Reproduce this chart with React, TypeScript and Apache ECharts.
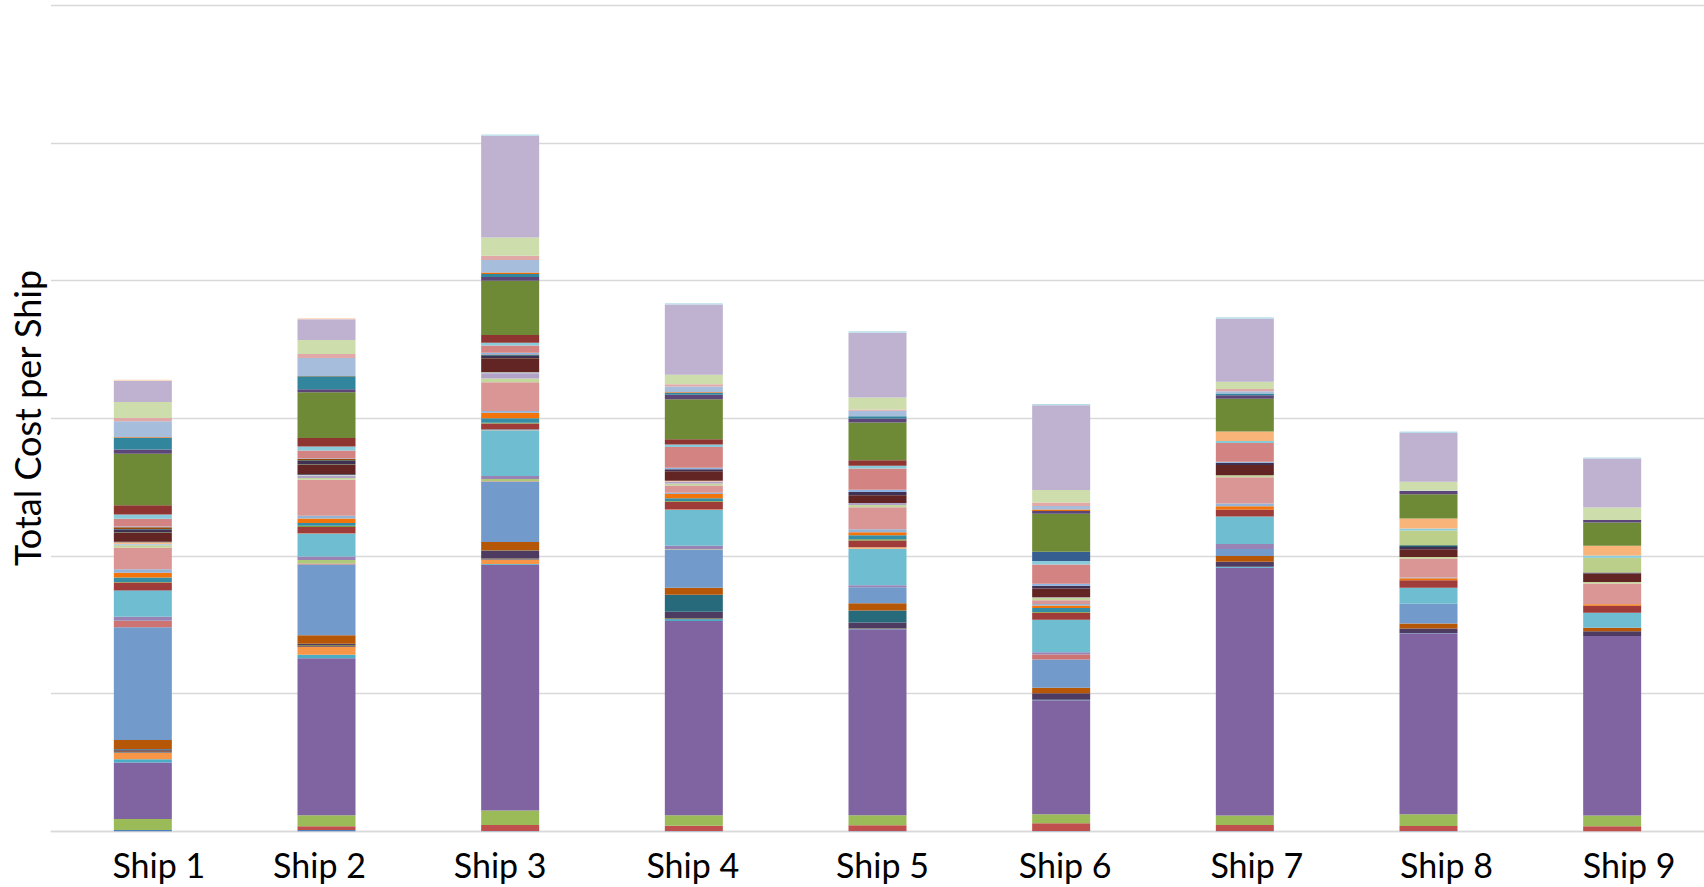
import React, { useEffect, useRef } from "react";
import * as echarts from "echarts";

const ships = ["Ship 1", "Ship 2", "Ship 3", "Ship 4", "Ship 5", "Ship 6", "Ship 7", "Ship 8", "Ship 9"];
// horizontal nudge of each category label, as in the reference rendering
const labelNudge = [16, -7, -10, -1, 5, 4, 12, 18, 17];

// Cost component colours, bottom of the stack to the top
const componentColors = [
  "#4F81BD", "#C0504D", "#9BBB59", "#8064A2", "#4BACC6", "#F79646",
  "#2C4D75", "#772C2A", "#5F7530", "#4D3B62", "#276A7C", "#B65708",
  "#729ACA", "#CD7371", "#AFC97A", "#9983B5", "#6FBDD1", "#F9AB6B",
  "#3A679C", "#9F3B38", "#7E9C40", "#664F83", "#358EA6", "#F3740B",
  "#95B3D7", "#D99694", "#C3D69B", "#B3A2C7", "#93CDDD", "#FAC090",
  "#254061", "#632523", "#4F6228", "#403152", "#215968", "#984807",
  "#8EB4E3", "#D38482", "#BBCE8A", "#A99BBD", "#8ACBDB", "#F9B47A",
  "#375E90", "#8E3532", "#6F8A37", "#5B4677", "#31859C", "#E36C09",
  "#A6BDDB", "#E0A9A8", "#CDDDAC", "#BFB1D0", "#B7DEE8", "#FCD5B4",
];

// Cost of each component per ship (same order as componentColors)
const ship1 = [
  1, 0, 8, 41, 2.4, 4.8,
  0.5, 0.5, 0.3, 1, 0.3, 6.5,
  82, 4.4, 0.3, 2.9, 18.6, 0.3,
  0.3, 5.6, 0.5, 0, 3.1, 3.6,
  2.4, 15.7, 1.9, 0.5, 0.3, 1.2,
  0.5, 6.5, 0.3, 2, 0.5, 1.2,
  0.5, 5.6, 0, 0, 3.1, 0,
  0, 6.8, 37.3, 3.1, 8.5, 0.5,
  11.6, 2.4, 11.6, 15.5, 0, 0.7,
];
const ship2 = [
  1, 2.7, 8, 114, 2.5, 5.6,
  0.5, 0.5, 0.6, 0.6, 0.3, 6.1,
  51.5, 0.7, 2.5, 2.5, 16.4, 0.3,
  0.3, 4.4, 1, 0, 2, 3.2,
  2, 26.2, 1.2, 1.7, 0.3, 0.3,
  0.5, 6.9, 0.3, 2.5, 0.5, 1,
  0.5, 5.6, 0, 0, 2.9, 0,
  0, 6.1, 33.3, 2.2, 9.3, 0.3,
  13, 2.9, 10.3, 15, 0, 0.7,
];
const ship3 = [
  0.3, 4.3, 10.5, 178.6, 0.5, 3.3,
  0.3, 0.3, 0.3, 5.3, 0.3, 6.2,
  43.8, 0.3, 1.6, 2.3, 33.2, 0.3,
  0.3, 4.3, 0.5, 0, 3.3, 3.9,
  1.3, 21, 2.6, 3.9, 0.3, 0.3,
  0.3, 9.9, 0.3, 1.6, 0.5, 0.3,
  1.3, 5.3, 0, 0, 2, 0,
  0, 5.6, 39.5, 2.6, 2.3, 1,
  9.2, 3, 13.2, 74, 1, 0,
];
const ship4 = [
  0.3, 3.8, 7.6, 141, 1.3, 0,
  0.3, 0.3, 0.4, 4.5, 12.4, 5,
  27.7, 0, 0.3, 2.5, 26, 0.3,
  0, 5.8, 0.5, 0, 2, 3,
  1, 5.3, 1.3, 1.5, 0, 0.5,
  0, 7, 0, 1.5, 0, 0,
  1, 15.1, 0, 0, 1.8, 0,
  0, 3.8, 29, 3.3, 1.3, 0.5,
  4.3, 1.5, 7, 51, 1, 0,
];
const ship5 = [
  0.3, 4.1, 7.3, 135, 0.3, 0,
  0.2, 0.2, 0.2, 4.1, 8.7, 5.3,
  11.6, 0, 0, 1.5, 26.4, 1.2,
  0, 4.8, 1, 0, 2.9, 2.2,
  2.2, 16, 1.5, 1.5, 0, 0,
  0, 5.6, 0, 2.4, 0, 0,
  1.7, 15.3, 0, 0, 2, 0,
  0, 4.1, 27.4, 2.9, 1.7, 0,
  3.9, 1, 8.7, 47, 1, 0,
];
const ship6 = [
  0.3, 5.6, 6.5, 82.8, 0.3, 0,
  0, 0, 0, 4.8, 0, 3.9,
  20.6, 3.6, 0, 1.7, 23.5, 0,
  0, 5.1, 0.7, 0, 2.9, 1.7,
  1.2, 2.7, 1.7, 0.5, 0, 0,
  0, 6.3, 0, 2, 0, 0,
  1.5, 14, 0, 0, 2.4, 0,
  6.8, 0, 27.6, 2, 0, 1,
  2.7, 2.4, 9.2, 61.5, 1, 0,
];
const ship7 = [
  0.3, 4.2, 6.9, 180, 0.7, 0,
  0, 0, 0, 3.7, 0, 4.2,
  5, 0, 0, 3.7, 20, 0,
  0, 5, 0, 0, 0, 2.5,
  2, 19, 1.5, 0, 0, 0,
  0, 7.4, 0, 1.7, 0, 0,
  0.7, 13.6, 0, 0, 1.5, 6.9,
  0, 0, 23.8, 2.5, 1.2, 0,
  1.7, 1.7, 5.2, 45.8, 1, 0,
];
const ship8 = [
  0.3, 3.6, 8.5, 131.4, 0.3, 0,
  0, 0, 0, 3.2, 0, 3.6,
  14.5, 0, 0, 0, 11.6, 0,
  0, 5.3, 0, 0, 0, 1.5,
  0.5, 13.8, 1.2, 0, 0, 0,
  0, 5.6, 0, 1.7, 1.2, 0,
  0, 0, 10.7, 0, 1.5, 7.3,
  0, 0, 17.5, 2.4, 0, 0,
  0.3, 0, 6.5, 35.4, 1, 0,
];
const ship9 = [
  0, 3.6, 7.8, 130.4, 0, 0,
  0, 0, 0, 3.6, 0, 2.4,
  0, 0, 0, 0, 10.9, 0,
  0, 5.1, 0, 0, 0, 1.2,
  0, 15, 1.2, 0, 0, 0,
  0, 6.1, 0, 0.7, 0, 0,
  0, 0, 10.7, 0, 1.7, 7,
  0, 0, 17, 1.7, 0, 0,
  0, 0, 9.2, 35.6, 0.7, 0,
];

const shipValues = [ship1, ship2, ship3, ship4, ship5, ship6, ship7, ship8, ship9];

const yMax = 600;
const yInterval = 100;

export default function App() {
  const ref = useRef<HTMLDivElement>(null);

  useEffect(() => {
    document.body.style.margin = "0";
    if (!ref.current) return;
    const chart = echarts.init(ref.current, undefined, { renderer: "svg" });

    const series = componentColors.map((color, i) => ({
      name: "Component " + (i + 1),
      type: "bar" as const,
      stack: "total",
      barWidth: 58,
      itemStyle: { color },
      data: shipValues.map((arr) => arr[i]),
    }));

    const rich: Record<string, any> = {};
    labelNudge.forEach((d, i) => {
      rich["l" + i] = {
        color: "#000000",
        fontSize: 34,
        fontFamily: "Lato",
        padding: d >= 0 ? [0, 0, 0, 2 * d] : [0, -2 * d, 0, 0],
      };
    });

    chart.setOption({
      animation: false,
      backgroundColor: "#FFFFFF",
      grid: { left: 51, right: 0, top: 5.4, bottom: 55.7, containLabel: false },
      xAxis: {
        type: "category",
        data: ships,
        axisTick: { show: false },
        axisLine: { lineStyle: { color: "#D9D9D9", width: 1.3 } },
        axisLabel: {
          interval: 0,
          hideOverlap: false,
          color: "#000000",
          fontSize: 34,
          fontFamily: "Lato",
          margin: 16,
          formatter: (value: string, index: number) => `{l${index}|${value}}`,
          rich,
        },
      },
      yAxis: {
        type: "value",
        min: 0,
        max: yMax,
        interval: yInterval,
        axisLabel: { show: false },
        axisTick: { show: false },
        axisLine: { show: false },
        splitLine: { lineStyle: { color: "#D9D9D9", width: 1.3 } },
      },
      graphic: [
        {
          type: "text",
          x: 27,
          y: 418,
          rotation: Math.PI / 2,
          style: {
            text: "Total Cost per Ship",
            fontSize: 36,
            fontFamily: "Lato",
            fill: "#000000",
            textAlign: "center",
            textVerticalAlign: "middle",
          },
        },
      ],
      series,
    });

    return () => chart.dispose();
  }, []);

  return (
    <div
      ref={ref}
      style={{ position: "fixed", left: 0, top: 0, width: 1704, height: 887 }}
    />
  );
}
